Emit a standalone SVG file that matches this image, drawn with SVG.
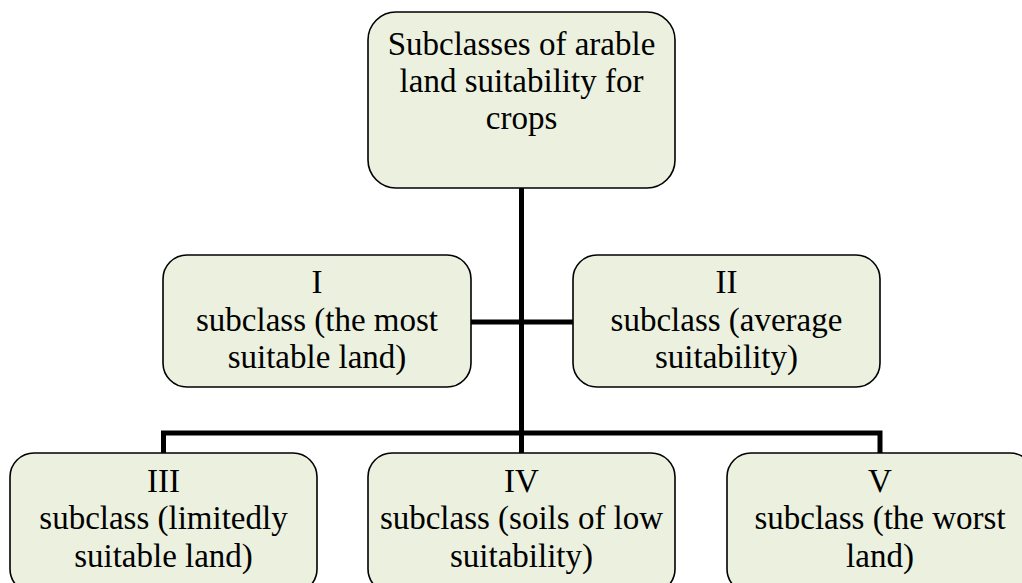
<svg xmlns="http://www.w3.org/2000/svg" width="1022" height="583" viewBox="0 0 1022 583">
<style>
.box{fill:#ebf1de;stroke:#000;stroke-width:1.6}
.t{font-size:33px;fill:#000;text-anchor:middle}
.c{stroke:#000;stroke-width:5;fill:none}
</style>
<rect width="1022" height="583" fill="#fff"/>
<g id="connectors">
<path class="c" d="M521.5 188V453"/>
<path class="c" d="M471 322H573"/>
<path class="c" d="M163.5 453V433H880V453"/>
</g>
<g font-family="Liberation Serif, Times New Roman, serif">
<g id="root">
<rect class="box" x="368" y="12" width="307" height="176" rx="28"/>
<text class="t" x="521.5" y="55">Subclasses of arable</text>
<text class="t" x="521.5" y="92">land suitability for</text>
<text class="t" x="521.5" y="129">crops</text>
</g>
<g id="n1">
<rect class="box" x="163" y="255" width="308" height="132" rx="24"/>
<text class="t" x="317" y="293">I</text>
<text class="t" x="317" y="331">subclass (the most</text>
<text class="t" x="317" y="368">suitable land)</text>
</g>
<g id="n2">
<rect class="box" x="573" y="255" width="307" height="132" rx="24"/>
<text class="t" x="726.5" y="293">II</text>
<text class="t" x="726.5" y="331">subclass (average</text>
<text class="t" x="726.5" y="368">suitability)</text>
</g>
<g id="n3">
<rect class="box" x="10" y="453" width="307" height="140" rx="24"/>
<text class="t" x="163.5" y="492">III</text>
<text class="t" x="163.5" y="529">subclass (limitedly</text>
<text class="t" x="163.5" y="567">suitable land)</text>
</g>
<g id="n4">
<rect class="box" x="368" y="453" width="307" height="140" rx="24"/>
<text class="t" x="521.5" y="492">IV</text>
<text class="t" x="521.5" y="529">subclass (soils of low</text>
<text class="t" x="521.5" y="567">suitability)</text>
</g>
<g id="n5">
<rect class="box" x="727" y="453" width="307" height="140" rx="24"/>
<text class="t" x="880" y="492">V</text>
<text class="t" x="880" y="529">subclass (the worst</text>
<text class="t" x="880" y="567">land)</text>
</g>
</g>
</svg>
